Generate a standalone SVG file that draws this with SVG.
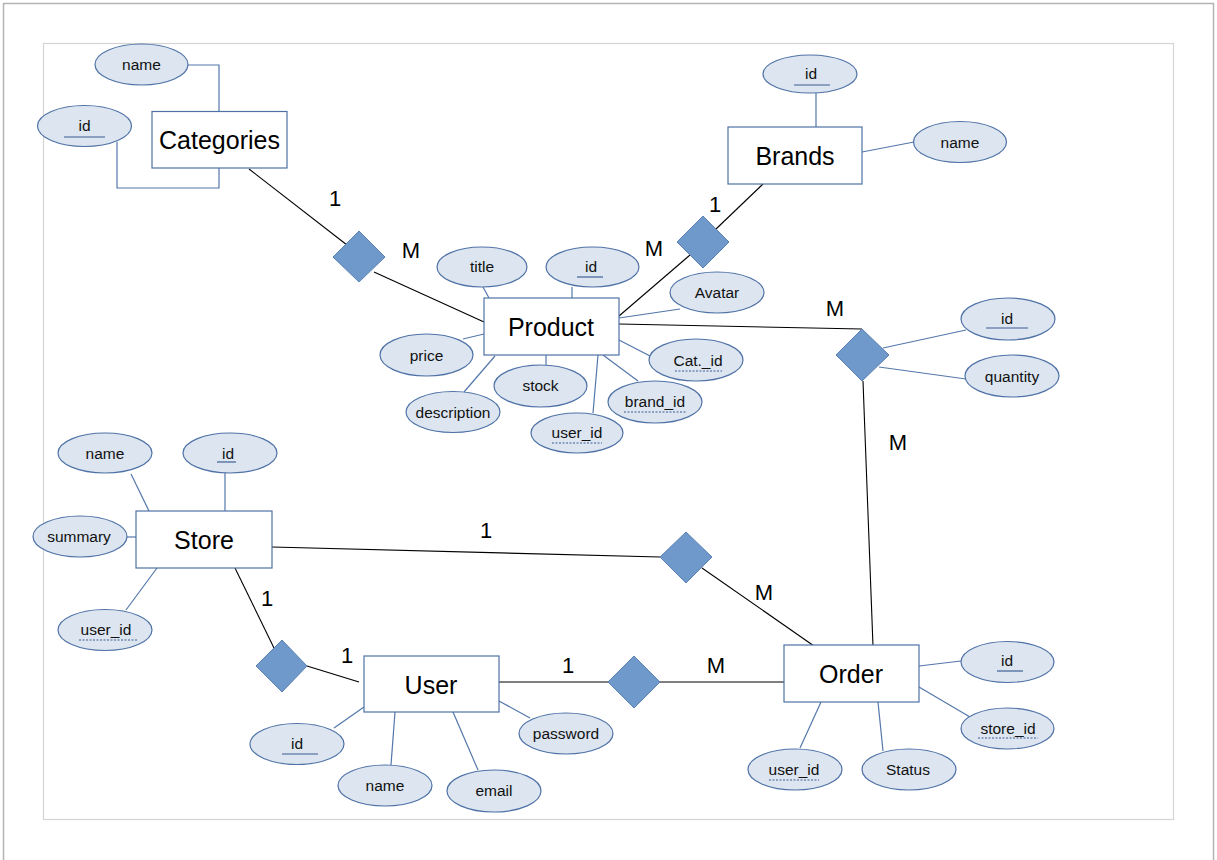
<svg xmlns="http://www.w3.org/2000/svg" width="1217" height="860" viewBox="0 0 1217 860">
<style>
.ent rect{fill:#fff;stroke:#4f72a6;stroke-width:1.2}
.ent text{font-family:"Liberation Sans",Arial,sans-serif;font-size:25px;fill:#000;text-anchor:middle;dominant-baseline:central}
.attr ellipse{fill:#dce5f0;stroke:#4f72a6;stroke-width:1.2}
.attr text{font-family:"Liberation Sans",Arial,sans-serif;font-size:15.5px;fill:#111;text-anchor:middle;dominant-baseline:central}
.pk{stroke:#3d5f94;stroke-width:1.2}
.fk{stroke:#3d5f94;stroke-width:1.2;stroke-dasharray:2 1.5}
.rel polygon{fill:#6f99cb;stroke:#5a82b5;stroke-width:1}
.card{font-family:"Liberation Sans",Arial,sans-serif;font-size:22px;fill:#000;text-anchor:middle;dominant-baseline:central}
.al{stroke:#5377aa;stroke-width:1.2;fill:none}
.rl{stroke:#000;stroke-width:1.1;fill:none}
</style>
<rect x="0" y="0" width="1217" height="860" fill="#fff"/>
<rect x="3.5" y="3.5" width="1210" height="870" fill="none" stroke="#b4b4b4" stroke-width="1.5"/>
<rect x="43.5" y="43.5" width="1130" height="776" fill="none" stroke="#d4d4d4" stroke-width="1.2"/>

<g id="connectors">
<!-- attribute connectors -->
<polyline class="al" points="188,65 219,65 219,112"/>
<polyline class="al" points="117,142 117,188 219,188 219,168"/>
<line class="al" x1="816" y1="93" x2="816" y2="127"/>
<line class="al" x1="862" y1="152" x2="914" y2="142"/>
<line class="al" x1="483" y1="287" x2="489" y2="298"/>
<line class="al" x1="572" y1="287" x2="572" y2="298"/>
<line class="al" x1="619" y1="318" x2="680" y2="309"/>
<line class="al" x1="463" y1="339" x2="484" y2="334"/>
<line class="al" x1="464" y1="392" x2="495" y2="356"/>
<line class="al" x1="546" y1="355" x2="546" y2="365"/>
<line class="al" x1="593" y1="413" x2="598" y2="355"/>
<line class="al" x1="638" y1="381" x2="603" y2="355"/>
<line class="al" x1="650" y1="356" x2="619" y2="340"/>
<line class="al" x1="883" y1="348" x2="966" y2="330"/>
<line class="al" x1="879" y1="367" x2="966" y2="379"/>
<line class="al" x1="131" y1="474" x2="149" y2="511"/>
<line class="al" x1="225" y1="473" x2="225" y2="511"/>
<line class="al" x1="127" y1="537" x2="136" y2="537"/>
<line class="al" x1="126" y1="610" x2="157" y2="568"/>
<line class="al" x1="334" y1="728" x2="364" y2="707"/>
<line class="al" x1="391" y1="765" x2="395" y2="712"/>
<line class="al" x1="478" y1="770" x2="453" y2="712"/>
<line class="al" x1="530" y1="718" x2="499" y2="701"/>
<line class="al" x1="919" y1="666" x2="961" y2="661"/>
<line class="al" x1="919" y1="687" x2="970" y2="717"/>
<line class="al" x1="800" y1="748" x2="821" y2="702"/>
<line class="al" x1="883" y1="751" x2="878" y2="702"/>
<!-- relationship connectors -->
<line class="rl" x1="249" y1="169" x2="347" y2="245"/>
<line class="rl" x1="374" y1="272" x2="484" y2="322"/>
<line class="rl" x1="763" y1="184" x2="716" y2="229"/>
<line class="rl" x1="690" y1="255" x2="619" y2="316"/>
<line class="rl" x1="619" y1="324" x2="862" y2="329"/>
<line class="rl" x1="863" y1="381" x2="873" y2="646"/>
<line class="rl" x1="272" y1="547" x2="660" y2="557"/>
<line class="rl" x1="702" y1="568" x2="814" y2="646"/>
<line class="rl" x1="235" y1="568" x2="274" y2="648"/>
<line class="rl" x1="307" y1="666" x2="359" y2="682"/>
<line class="rl" x1="499" y1="682" x2="609" y2="682"/>
<line class="rl" x1="660" y1="682" x2="785" y2="682"/>
</g>

<g id="rel-cat-prod" class="rel"><polygon points="359,231 385,257 359,282 333,257"/></g>
<g id="rel-brand-prod" class="rel"><polygon points="703,216 729,242 703,268 677,242"/></g>
<g id="rel-prod-order" class="rel"><polygon points="862,329 889,355 862,381 836,355"/></g>
<g id="rel-store-order" class="rel"><polygon points="686,532 712,557 686,583 660,557"/></g>
<g id="rel-store-user" class="rel"><polygon points="282,640 307,666 282,692 256,666"/></g>
<g id="rel-user-order" class="rel"><polygon points="634,656 660,682 634,708 608,682"/></g>

<g id="cardinalities">
<text class="card" x="335" y="198">1</text>
<text class="card" x="411" y="250">M</text>
<text class="card" x="715" y="204">1</text>
<text class="card" x="654" y="248">M</text>
<text class="card" x="835" y="308">M</text>
<text class="card" x="898" y="442">M</text>
<text class="card" x="486" y="530">1</text>
<text class="card" x="764" y="592">M</text>
<text class="card" x="267" y="598">1</text>
<text class="card" x="347" y="655">1</text>
<text class="card" x="568" y="665">1</text>
<text class="card" x="716" y="665">M</text>
</g>

<g id="categories" class="ent"><rect x="152" y="111.5" width="135" height="56.5"/><text x="219.5" y="140">Categories</text></g>
<g id="cat-name" class="attr"><ellipse cx="141.5" cy="64.5" rx="46.5" ry="20.5"/><text x="141.5" y="64.5">name</text></g>
<g id="cat-id" class="attr"><ellipse cx="84.5" cy="126" rx="47" ry="20.5"/><text x="84.5" y="125">id</text><line class="pk" x1="64" y1="137" x2="105" y2="137"/></g>

<g id="brands" class="ent"><rect x="728" y="127" width="134" height="57"/><text x="795" y="155.5">Brands</text></g>
<g id="brand-id" class="attr"><ellipse cx="810" cy="74" rx="47" ry="19"/><text x="811" y="73">id</text><line class="pk" x1="794" y1="85" x2="830" y2="85"/></g>
<g id="brand-name" class="attr"><ellipse cx="960" cy="142" rx="46.5" ry="20.5"/><text x="960" y="142">name</text></g>

<g id="product" class="ent"><rect x="484" y="298" width="135" height="57"/><text x="551" y="326.5">Product</text></g>
<g id="prod-title" class="attr"><ellipse cx="482" cy="267" rx="45" ry="20"/><text x="482" y="266.5">title</text></g>
<g id="prod-id" class="attr"><ellipse cx="592.5" cy="267" rx="46.5" ry="20"/><text x="591" y="266.5">id</text><line class="pk" x1="577" y1="277" x2="603" y2="277"/></g>
<g id="prod-avatar" class="attr"><ellipse cx="717" cy="292.5" rx="47" ry="20.5"/><text x="717" y="292.5">Avatar</text></g>
<g id="prod-price" class="attr"><ellipse cx="426.5" cy="355" rx="46.5" ry="21"/><text x="426.5" y="355">price</text></g>
<g id="prod-description" class="attr"><ellipse cx="453" cy="412" rx="47" ry="20.5"/><text x="453" y="412">description</text></g>
<g id="prod-stock" class="attr"><ellipse cx="540.5" cy="386" rx="46.5" ry="21"/><text x="540.5" y="385.5">stock</text></g>
<g id="prod-user-id" class="attr"><ellipse cx="577" cy="433" rx="46" ry="20"/><text x="577" y="432.5">user_id</text><line class="fk" x1="552" y1="443" x2="602" y2="443"/></g>
<g id="prod-brand-id" class="attr"><ellipse cx="655" cy="402" rx="47" ry="21"/><text x="655" y="401.5">brand_id</text><line class="fk" x1="624" y1="412" x2="686" y2="412"/></g>
<g id="prod-cat-id" class="attr"><ellipse cx="696" cy="360" rx="47" ry="21"/><text x="698" y="360">Cat._id</text><line class="fk" x1="675" y1="371" x2="722" y2="371"/></g>

<g id="pl-id" class="attr"><ellipse cx="1008" cy="319" rx="47" ry="21"/><text x="1007" y="318">id</text><line class="pk" x1="986" y1="328" x2="1028" y2="328"/></g>
<g id="pl-quantity" class="attr"><ellipse cx="1012" cy="376" rx="47" ry="21"/><text x="1012" y="376">quantity</text></g>

<g id="store" class="ent"><rect x="136" y="511" width="136" height="57"/><text x="204" y="539.5">Store</text></g>
<g id="store-name" class="attr"><ellipse cx="105" cy="453" rx="47" ry="20"/><text x="105" y="453">name</text></g>
<g id="store-id" class="attr"><ellipse cx="230" cy="453" rx="47" ry="20"/><text x="228" y="453">id</text><line class="pk" x1="217" y1="462" x2="236" y2="462"/></g>
<g id="store-summary" class="attr"><ellipse cx="80" cy="536.5" rx="47" ry="20.5"/><text x="79" y="536.5">summary</text></g>
<g id="store-user-id" class="attr"><ellipse cx="105" cy="630" rx="47" ry="20.5"/><text x="106" y="629.5">user_id</text><line class="fk" x1="79" y1="640" x2="137" y2="640"/></g>

<g id="user" class="ent"><rect x="364" y="656" width="135" height="56"/><text x="431" y="684.5">User</text></g>
<g id="user-id" class="attr"><ellipse cx="297" cy="744" rx="47" ry="20.5"/><text x="297" y="743">id</text><line class="pk" x1="282" y1="754" x2="318" y2="754"/></g>
<g id="user-name" class="attr"><ellipse cx="385" cy="785.5" rx="47" ry="20.5"/><text x="385" y="785">name</text></g>
<g id="user-email" class="attr"><ellipse cx="494" cy="791" rx="47" ry="21"/><text x="494" y="790.5">email</text></g>
<g id="user-password" class="attr"><ellipse cx="566" cy="733.5" rx="47" ry="20.5"/><text x="566" y="733">password</text></g>

<g id="order" class="ent"><rect x="784" y="645" width="135" height="57"/><text x="851" y="674">Order</text></g>
<g id="order-id" class="attr"><ellipse cx="1007.5" cy="662" rx="46.5" ry="20.5"/><text x="1007" y="660.5">id</text><line class="pk" x1="997" y1="671" x2="1023" y2="671"/></g>
<g id="order-store-id" class="attr"><ellipse cx="1007.5" cy="728.5" rx="46.5" ry="20.5"/><text x="1008" y="728">store_id</text><line class="fk" x1="978" y1="738" x2="1038" y2="738"/></g>
<g id="order-user-id" class="attr"><ellipse cx="795" cy="769.5" rx="47" ry="20.5"/><text x="794" y="769">user_id</text><line class="fk" x1="769" y1="780" x2="819" y2="780"/></g>
<g id="order-status" class="attr"><ellipse cx="909" cy="769.5" rx="47" ry="20.5"/><text x="908" y="769">Status</text></g>
</svg>
